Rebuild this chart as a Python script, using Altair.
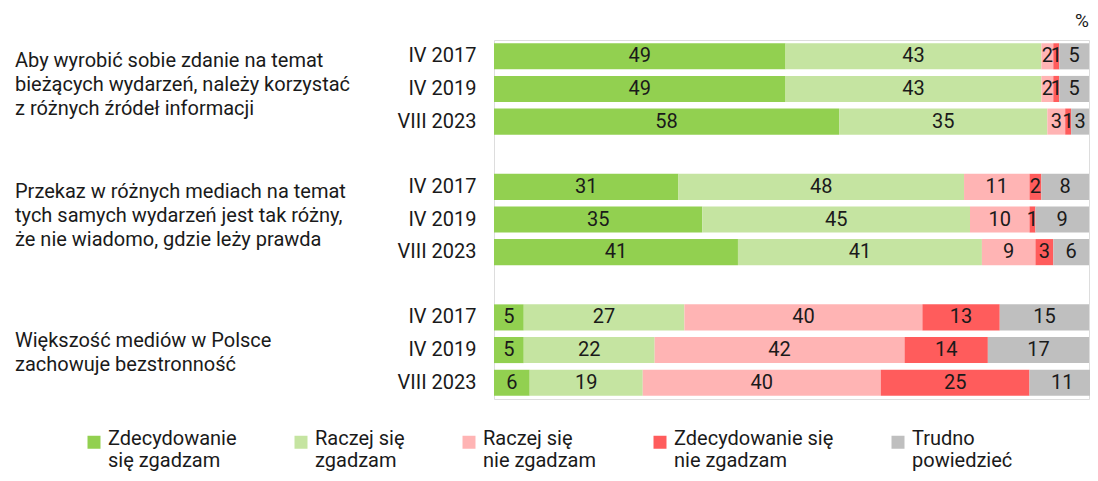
import altair as alt
import pandas as pd

questions = [
    "Aby wyrobić sobie zdanie na temat\nbieżących wydarzeń, należy korzystać\nz różnych źródeł informacji",
    "Przekaz w różnych mediach na temat\ntych samych wydarzeń jest tak różny,\nże nie wiadomo, gdzie leży prawda",
    "Większość mediów w Polsce\nzachowuje bezstronność",
]
years = ["IV 2017", "IV 2019", "VIII 2023"]
categories = [
    "Zdecydowanie\nsię zgadzam",
    "Raczej się\nzgadzam",
    "Raczej się\nnie zgadzam",
    "Zdecydowanie się\nnie zgadzam",
    "Trudno\npowiedzieć",
]
colors = ["#92d050", "#c5e4a1", "#ffb4b4", "#ff5c5c", "#bfbfbf"]

q1_values = [[49, 43, 2, 1, 5], [49, 43, 2, 1, 5], [58, 35, 3, 1, 3]]
q2_values = [[31, 48, 11, 2, 8], [35, 45, 10, 1, 9], [41, 41, 9, 3, 6]]
q3_values = [[5, 27, 40, 13, 15], [5, 22, 42, 14, 17], [6, 19, 40, 25, 11]]
all_values = [q1_values, q2_values, q3_values]

rows = []
domain = []
for qi, qv in enumerate(all_values):
    if qi > 0:
        domain.append(f"s{qi}")
    for yi, year in enumerate(years):
        key = f"{qi}|{year}"
        domain.append(key)
        for ci, cat in enumerate(categories):
            rows.append({"row": key, "cat": cat, "order": ci, "value": qv[yi][ci]})
df = pd.DataFrame(rows)

qdf = pd.DataFrame({
    "row": [f"{qi}|{years[1]}" for qi in range(len(questions))],
    "text": questions,
    "lines": [q.count("\n") + 1 for q in questions],
})

FONT = "Roboto"
TXT = "#1a1a1a"

y_scale = alt.Scale(domain=domain, paddingInner=0.2, paddingOuter=0.1)

y_enc = alt.Y(
    "row:N",
    scale=y_scale,
    axis=alt.Axis(
        title=None, ticks=False, domain=False, labelPadding=18,
        labelFontSize=20, labelColor=TXT, labelFont=FONT,
        labelExpr="indexof(datum.value, '|') >= 0 ? split(datum.value, '|')[1] : ''",
    ),
)

base = alt.Chart(df).transform_stack(
    stack="value", as_=["x0", "x1"], groupby=["row"], sort=[alt.SortField("order")]
).transform_calculate(mid="(datum.x0 + datum.x1) / 2")

bars = base.mark_bar().encode(
    x=alt.X("x0:Q", scale=alt.Scale(domain=[0, 100], nice=False), axis=None),
    x2="x1:Q",
    y=y_enc,
    color=alt.Color(
        "cat:N",
        scale=alt.Scale(domain=categories, range=colors),
        legend=alt.Legend(
            title=None, orient="none", legendX=-410, legendY=389,
            direction="horizontal", columnPadding=54,
            symbolType="M-1,-0.5L1,-0.5L1,1.5L-1,1.5Z", symbolSize=169,
            symbolStrokeWidth=0,
            labelFontSize=20, labelFont=FONT, labelColor=TXT,
            labelExpr="split(datum.label, '\\n')", labelBaseline="middle",
            labelLimit=300, labelOffset=4,
        ),
    ),
)

labels = base.mark_text(fontSize=20, font=FONT, color=TXT).encode(
    x=alt.X("mid:Q"),
    y=alt.Y("row:N", scale=alt.Scale(domain=domain)),
    text="value:Q",
)

q3 = alt.Chart(qdf).transform_filter("datum.lines == 3").mark_text(
    align="left", baseline="middle", lineBreak="\n", fontSize=20,
    font=FONT, color=TXT, lineHeight=24, dy=-28,
).encode(
    x=alt.value(-479),
    y=alt.Y("row:N", scale=alt.Scale(domain=domain)),
    text="text:N",
)
q2 = alt.Chart(qdf).transform_filter("datum.lines == 2").mark_text(
    align="left", baseline="middle", lineBreak="\n", fontSize=20,
    font=FONT, color=TXT, lineHeight=24, dy=-9,
).encode(
    x=alt.value(-479),
    y=alt.Y("row:N", scale=alt.Scale(domain=domain)),
    text="text:N",
)

chart = alt.layer(bars, labels, q3, q2).properties(
    width=595, height=359,
    autosize=alt.AutoSizeParams(type="none"),
    padding={"left": 486, "top": 32, "right": 1, "bottom": 74},
    title=alt.TitleParams("%", anchor="end", fontSize=19, fontWeight="normal",
                          font=FONT, color=TXT, offset=9, dx=-6),
).configure_view(stroke=None).configure(font=FONT)

chart.save("out.html", embed_options={"renderer": "svg", "actions": False})
